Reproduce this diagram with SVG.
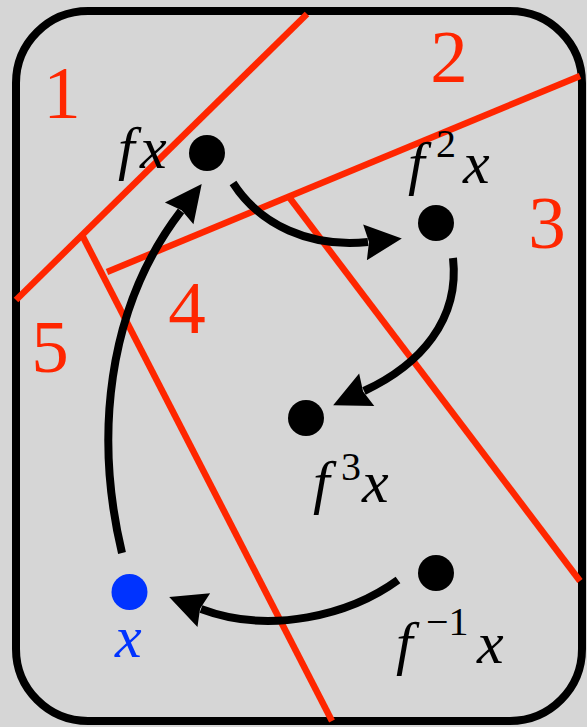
<svg xmlns="http://www.w3.org/2000/svg" width="587" height="727" viewBox="0 0 587 727">
<style>
.red{stroke:#ff2600;stroke-width:6.5;fill:none}
.arr{stroke:#000;stroke-width:8;fill:none;marker-end:url(#ah)}
.serif{font-family:'Liberation Serif',FreeSerif,'Noto Serif','DejaVu Serif',serif}
.num{font-size:75px;fill:#ff2600;text-anchor:middle}
.lab{font-size:60px;font-style:italic;fill:#000}
.sup{font-style:normal;font-size:40px}
.dot{fill:#000}
</style>
<defs>
<marker id="ah" markerUnits="userSpaceOnUse" markerWidth="46" markerHeight="46" refX="3" refY="0" viewBox="-3 -23 46 46" orient="auto" overflow="visible">
<path d="M0,-18 L37,0 L0,18 L4,0 z" fill="#000"/>
</marker>
</defs>
<rect x="0" y="0" width="587" height="727" fill="#d6d6d6"/>
<g id="frame">
<rect x="16" y="11" width="566" height="710" rx="72" ry="72" fill="#d6d6d6" stroke="#000" stroke-width="8"/>
</g>
<g id="partition">
<line class="red" x1="307" y1="14" x2="16" y2="300"/>
<line class="red" x1="107" y1="272" x2="580" y2="76"/>
<line class="red" x1="82" y1="235" x2="332" y2="721"/>
<line class="red" x1="289" y1="197" x2="580" y2="581"/>
</g>
<g id="region-labels" class="serif">
<text class="num" x="62" y="118">1</text>
<text class="num" x="449" y="82">2</text>
<text class="num" x="547" y="248">3</text>
<text class="num" x="187" y="333">4</text>
<text class="num" x="50" y="372">5</text>
</g>
<g id="connectors">
<path class="arr" d="M122,553 C95,440 105,310 181,211"/>
<path class="arr" d="M233,183 C260,225 310,248 368,242"/>
<path class="arr" d="M453,258 C460,320 420,365 364,391"/>
<path class="arr" d="M398,580 C350,615 270,635 201,609"/>
</g>
<g id="node-fx" class="serif">
<circle class="dot" cx="207" cy="153" r="18"/>
<text class="lab" y="168"><tspan x="118">f</tspan><tspan x="140">x</tspan></text>
</g>
<g id="node-f2x" class="serif">
<circle class="dot" cx="436" cy="223" r="18"/>
<text class="lab" y="183"><tspan x="408">f</tspan><tspan class="sup" x="436" y="157">2</tspan><tspan x="463" y="183">x</tspan></text>
</g>
<g id="node-f3x" class="serif">
<circle class="dot" cx="306" cy="418" r="18"/>
<text class="lab" y="502"><tspan x="313">f</tspan><tspan class="sup" x="341" y="480">3</tspan><tspan x="362" y="502">x</tspan></text>
</g>
<g id="node-finvx" class="serif">
<circle class="dot" cx="436" cy="573" r="18"/>
<text class="lab" y="663"><tspan x="396">f</tspan><tspan class="sup" x="426" y="635">−1</tspan><tspan x="477" y="663">x</tspan></text>
</g>
<g id="node-x" class="serif">
<circle cx="129.5" cy="592" r="18" fill="#0033ff"/>
<text class="lab" y="657" x="115" style="fill:#0033ff">x</text>
</g>
</svg>
